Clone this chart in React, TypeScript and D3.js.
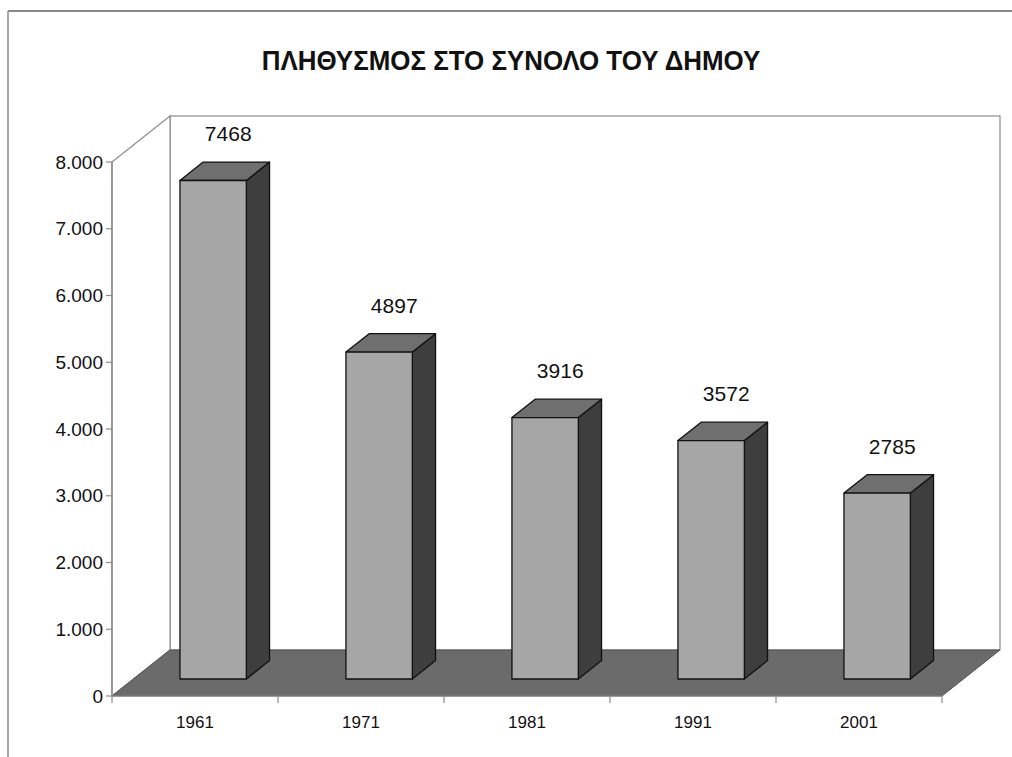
import * as d3 from 'd3'

const years = ['1961', '1971', '1981', '1991', '2001']
const population = [7468, 4897, 3916, 3572, 2785]
const yTicks = [0, 1000, 2000, 3000, 4000, 5000, 6000, 7000, 8000]
const TITLE = 'ΠΛΗΘΥΣΜΟΣ ΣΤΟ ΣΥΝΟΛΟ ΤΟΥ ΔΗΜΟΥ'

const W = 1012
const H = 757
const FONT = '"Liberation Sans", Arial, sans-serif'

// front plane of the 3d box and the depth offset to the back wall
const LEFT = 112
const RIGHT = 942
const BOTTOM = 696
const TOP = 162
const DX = 58
const DY = 46
const BAR_FRONT = 0.37 // depth position of bar front face
const BAR_DEPTH = 0.4

const fmt = (v: number) => (v === 0 ? '0' : d3.format(',')(v).replace(/,/g, '.'))

export default function App() {
  const y = d3.scaleLinear().domain([0, 8000]).range([BOTTOM, TOP])
  const x = d3.scaleBand<string>().domain(years).range([LEFT, RIGHT])
  const step = x.bandwidth()
  const barW = step * 0.4
  const fdx = BAR_FRONT * DX
  const fdy = BAR_FRONT * DY
  const sdx = BAR_DEPTH * DX
  const sdy = BAR_DEPTH * DY

  const bars = years.map((yr, i) => {
    const x0 = (x(yr) as number) + step * 0.28 + fdx
    const x1 = x0 + barW
    const yb = BOTTOM - fdy
    const yt = y(population[i]) - fdy
    return { yr, v: population[i], x0, x1, yb, yt }
  })

  const pts = (a: number[][]) => a.map(p => p.join(',')).join(' ')

  return (
    <svg width={W} height={H} style={{ position: 'absolute', left: 0, top: 0, background: '#fff' }}>
      {/* outer frame */}
      <line x1={8} y1={11} x2={W} y2={11} stroke="#8a8a8a" strokeWidth={2} />
      <line x1={8} y1={11} x2={8} y2={H} stroke="#8a8a8a" strokeWidth={1.5} />

      <text
        x={511}
        y={70}
        textAnchor="middle"
        fontFamily={FONT}
        fontWeight="bold"
        fontSize={27}
        fill="#111"
        transform="translate(511,0) scale(0.96,1) translate(-511,0)"
      >
        {TITLE}
      </text>

      {/* walls */}
      <rect x={LEFT + DX} y={TOP - DY} width={RIGHT - LEFT} height={BOTTOM - TOP} fill="#fff" stroke="#8c8c8c" strokeWidth={1.2} />
      <polygon
        points={pts([[LEFT, TOP], [LEFT + DX, TOP - DY], [LEFT + DX, BOTTOM - DY], [LEFT, BOTTOM]])}
        fill="#fff"
        stroke="#8c8c8c"
        strokeWidth={1.2}
      />
      {/* floor */}
      <polygon
        points={pts([[LEFT, BOTTOM], [LEFT + DX, BOTTOM - DY], [RIGHT + DX, BOTTOM - DY], [RIGHT, BOTTOM]])}
        fill="#6b6b6b"
        stroke="#555"
        strokeWidth={1}
      />

      {/* y axis */}
      <line x1={LEFT} y1={TOP} x2={LEFT} y2={BOTTOM} stroke="#8c8c8c" strokeWidth={1.5} />
      {yTicks.map(t => (
        <g key={t}>
          <line x1={LEFT - 6} x2={LEFT} y1={y(t)} y2={y(t)} stroke="#8c8c8c" strokeWidth={1.2} />
          <text x={LEFT - 9} y={y(t)} dy="0.35em" textAnchor="end" fontFamily={FONT} fontSize={19} fill="#111">
            {fmt(t)}
          </text>
        </g>
      ))}

      {/* x axis */}
      <line x1={LEFT} y1={BOTTOM} x2={RIGHT} y2={BOTTOM} stroke="#8c8c8c" strokeWidth={1.2} />
      {[...years.map(c => x(c) as number), RIGHT].map((v, i) => (
        <line key={i} x1={v} x2={v} y1={BOTTOM} y2={BOTTOM + 7} stroke="#8c8c8c" strokeWidth={1.2} />
      ))}
      {years.map(c => (
        <text key={c} x={(x(c) as number) + step / 2} y={728} textAnchor="middle" fontFamily={FONT} fontSize={17} fill="#111">
          {c}
        </text>
      ))}

      {/* bars */}
      {bars.map(b => (
        <g key={b.yr} stroke="#111" strokeWidth={1.3} strokeLinejoin="round">
          <polygon
            points={pts([[b.x1, b.yb], [b.x1 + sdx, b.yb - sdy], [b.x1 + sdx, b.yt - sdy], [b.x1, b.yt]])}
            fill="#3e3e3e"
          />
          <polygon
            points={pts([[b.x0, b.yt], [b.x0 + sdx, b.yt - sdy], [b.x1 + sdx, b.yt - sdy], [b.x1, b.yt]])}
            fill="#6f6f6f"
          />
          <rect x={b.x0} y={b.yt} width={b.x1 - b.x0} height={b.yb - b.yt} fill="#a6a6a6" />
          <text
            x={(b.x0 + b.x1) / 2 + sdx * 0.65}
            y={b.yt - sdy - 21}
            textAnchor="middle"
            fontFamily={FONT}
            fontSize={21}
            fill="#111"
            stroke="none"
          >
            {b.v}
          </text>
        </g>
      ))}
    </svg>
  )
}
